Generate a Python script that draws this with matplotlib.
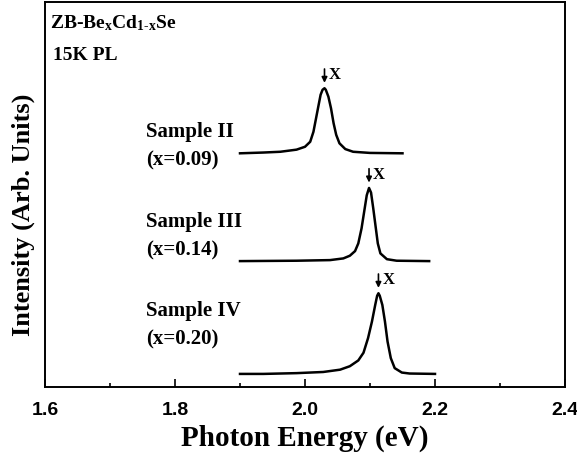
import matplotlib
matplotlib.use('Agg')
import matplotlib.pyplot as plt

# photon energy (eV) and PL intensity (arb. units)
e_ii = [1.900, 1.936, 1.962, 1.987, 2.000, 2.008, 2.013, 2.017, 2.021, 2.024,
        2.027, 2.030, 2.032, 2.036, 2.040, 2.044, 2.048, 2.053, 2.062, 2.074,
        2.100, 2.150]
i_ii = [0.000, 0.002, 0.004, 0.0095, 0.017, 0.030, 0.056, 0.091, 0.126, 0.152,
        0.165, 0.169, 0.165, 0.147, 0.117, 0.078, 0.048, 0.026, 0.011, 0.004,
        0.001, 0.000]

e_iii = [1.900, 1.987, 2.0385, 2.059, 2.069, 2.077, 2.082, 2.087, 2.091, 2.095,
         2.0985, 2.1016, 2.105, 2.109, 2.112, 2.116, 2.126, 2.141, 2.191]
i_iii = [0.000, 0.001, 0.0026, 0.007, 0.014, 0.026, 0.046, 0.085, 0.128, 0.171,
         0.190, 0.178, 0.137, 0.085, 0.046, 0.020, 0.005, 0.001, 0.000]

e_iv = [1.900, 1.936, 1.987, 2.028, 2.054, 2.069, 2.082, 2.090, 2.097, 2.103,
        2.108, 2.111, 2.113, 2.115, 2.119, 2.123, 2.127, 2.132, 2.138, 2.149,
        2.161, 2.200]
i_iv = [0.000, 0.000, 0.002, 0.005, 0.011, 0.020, 0.035, 0.055, 0.093, 0.136,
        0.179, 0.203, 0.2095, 0.203, 0.179, 0.136, 0.084, 0.041, 0.015, 0.0035,
        0.001, 0.000]

energies = [e_ii, e_iii, e_iv]
intensities = [i_ii, i_iii, i_iv]
offsets = [0.607, 0.327, 0.034]
peak_e = [2.030, 2.0985, 2.113]
names = ['Sample II', 'Sample III', 'Sample IV']
comps = ['(x=0.09)', '(x=0.14)', '(x=0.20)']

serif = 'Liberation Serif'
plt.rcParams['mathtext.fontset'] = 'custom'
plt.rcParams['mathtext.rm'] = 'Liberation Serif:bold'
plt.rcParams['mathtext.it'] = 'Liberation Serif:bold'
plt.rcParams['mathtext.bf'] = 'Liberation Serif:bold'

fig = plt.figure(figsize=(5.77, 4.59), dpi=100)
ax = fig.add_axes([45 / 577, 1 - 387 / 459, 520 / 577, 385 / 459])

for e, i, off in zip(energies, intensities, offsets):
    ax.plot(e, [v + off for v in i], color='black', lw=1.8)

# "X" exciton markers above each peak
for pe, i, off in zip(peak_e, intensities, offsets):
    top = max(i) + off
    ax.annotate('', xy=(pe, top + 0.014), xytext=(pe, top + 0.05),
                arrowprops=dict(arrowstyle='-|>', color='black', lw=1.2,
                                mutation_scale=8, shrinkA=0, shrinkB=0))
    ax.text(pe + 0.006, top + 0.034, 'X', family=serif, weight='bold',
            fontsize=12, va='center', ha='left')

# sample labels
label_y = [(387 - 132) / 385, (387 - 222) / 385, (387 - 311) / 385]
for name, comp, y in zip(names, comps, label_y):
    ax.text(1.755, y, name, family=serif, weight='bold', fontsize=15,
            va='center', ha='left')
    ax.text(1.755, y - 0.073, comp, family=serif, weight='bold', fontsize=15,
            va='center', ha='left')

ax.text(0.01, 0.945, r'ZB-Be$_{x}$Cd$_{1\text{-}x}$Se', transform=ax.transAxes,
        family=serif, weight='bold', fontsize=14, va='center', ha='left')
ax.text(0.016, 0.86, '15K PL', transform=ax.transAxes,
        family=serif, weight='bold', fontsize=14, va='center', ha='left')

ax.set_xlim(1.6, 2.4)
ax.set_ylim(0, 1)
ax.set_xticks([1.6, 1.8, 2.0, 2.2, 2.4])
ax.set_xticks([1.7, 1.9, 2.1, 2.3], minor=True)
ax.set_xticklabels(['1.6', '1.8', '2.0', '2.2', '2.4'],
                   family='Liberation Sans', weight='bold', fontsize=14)
ax.set_yticks([])
ax.tick_params(axis='x', which='major', direction='in', length=6, width=1.2, pad=11)
ax.tick_params(axis='x', which='minor', direction='in', length=3, width=1.2)
for sp in ax.spines.values():
    sp.set_linewidth(1.4)

ax.set_xlabel('Photon Energy (eV)', family=serif, weight='bold', fontsize=21,
              labelpad=4)
ax.set_ylabel('Intensity (Arb. Units)', family=serif, weight='bold', fontsize=19)
ax.yaxis.set_label_coords(-0.019, 0.447)

fig.savefig('out.png', dpi=100)
